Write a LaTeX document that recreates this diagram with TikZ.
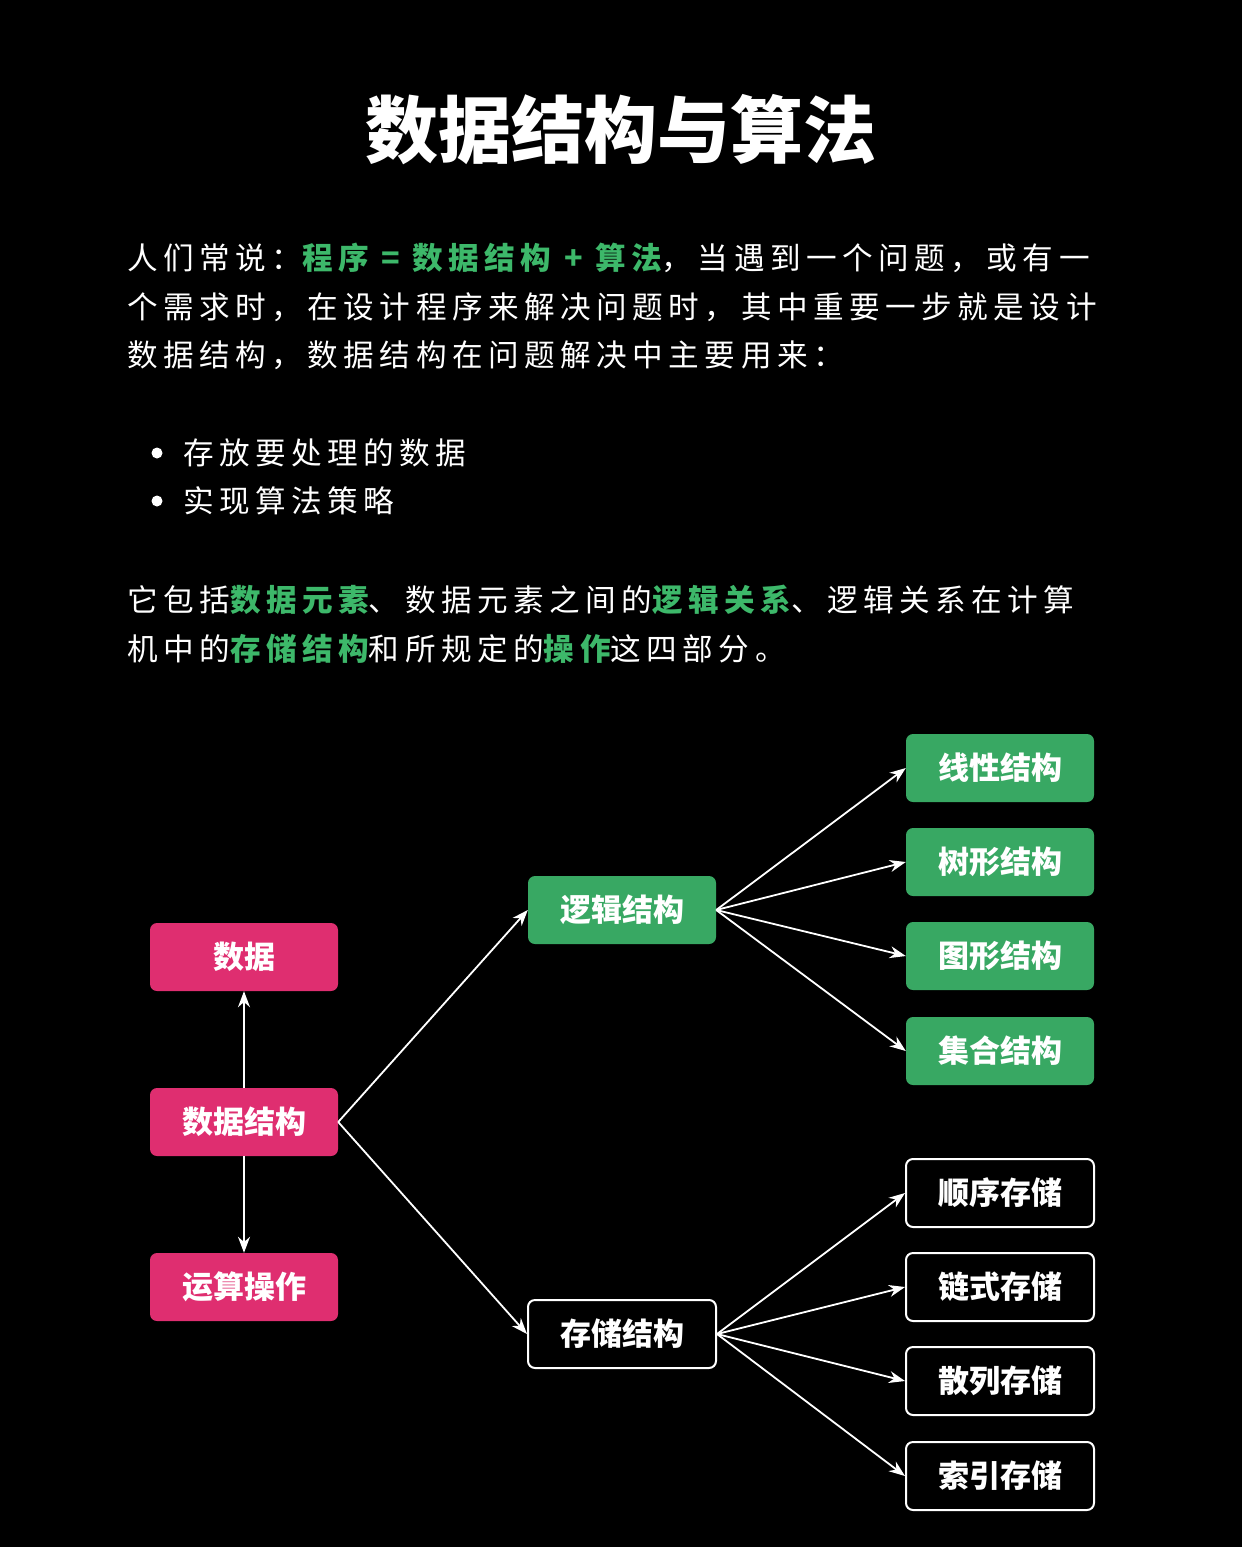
\documentclass[tikz,border=0pt]{standalone}
\usepackage{fontspec}
\usetikzlibrary{arrows.meta}
\newfontfamily\cjk{Noto Sans CJK SC}
\newfontfamily\body[LetterSpace=18]{Noto Sans CJK SC}
\definecolor{gr}{HTML}{3DB86A}
\definecolor{boxgr}{HTML}{38A863}
\definecolor{pk}{HTML}{DF2E70}
\newcommand{\hl}[1]{{\bfseries\color{gr}#1}}
\begin{document}
\begin{tikzpicture}[x=1pt,y=-1pt,
  txt/.style={anchor=west,inner sep=0pt,text=white,font=\body\fontsize{30.6}{30}\selectfont},
  bx/.style={rounded corners=7pt,minimum width=188pt,minimum height=68pt,text=white,font=\cjk\bfseries\fontsize{31}{31}\selectfont},
  gbox/.style={bx,fill=boxgr},
  pbox/.style={bx,fill=pk},
  kbox/.style={bx,fill=black,draw=white,line width=2pt},
  arr/.style={draw=white,line width=1.8pt,-{Stealth[length=16pt,width=12pt]}}]
\fill[black] (0,0) rectangle (1242,1547);
\useasboundingbox (0,0) rectangle (1242,1547);
\node[text=white,font=\cjk\bfseries\fontsize{73}{73}\selectfont] (title) at (621,130) {数据结构与算法};
\node[txt] (l1) at (127,258) {人们常说：\hl{程序 = 数据结构 + 算法}，当遇到一个问题，或有一};
\node[txt] (l2) at (127,307) {个需求时，在设计程序来解决问题时，其中重要一步就是设计};
\node[txt] (l3) at (127,355) {数据结构，数据结构在问题解决中主要用来：};
\fill[white] (157,453) circle (5.5pt);
\fill[white] (157,501) circle (5.5pt);
\node[txt] (b1) at (183,453) {存放要处理的数据};
\node[txt] (b2) at (183,501) {实现算法策略};
\node[txt] (p1) at (127,600) {它包括\hl{数据元素}、数据元素之间的\hl{逻辑关系}、逻辑关系在计算};
\node[txt] (p2) at (127,649) {机中的\hl{存储结构}和所规定的\hl{操作}这四部分。};

\node[pbox] (sj) at (244,957) {数据};
\node[pbox] (sjjg) at (244,1122) {数据结构};
\node[pbox] (yscz) at (244,1287) {运算操作};
\node[gbox] (ljjg) at (622,910) {逻辑结构};
\node[kbox] (ccjg) at (622,1334) {存储结构};
\node[gbox] (g1) at (1000,768) {线性结构};
\node[gbox] (g2) at (1000,862) {树形结构};
\node[gbox] (g3) at (1000,956) {图形结构};
\node[gbox] (g4) at (1000,1051) {集合结构};
\node[kbox] (k1) at (1000,1193) {顺序存储};
\node[kbox] (k2) at (1000,1287) {链式存储};
\node[kbox] (k3) at (1000,1381) {散列存储};
\node[kbox] (k4) at (1000,1476) {索引存储};

\draw[arr] (sjjg.north) -- (sj.south);
\draw[arr] (sjjg.south) -- (yscz.north);
\draw[arr] (sjjg.east) -- (ljjg.west);
\draw[arr] (sjjg.east) -- (ccjg.west);
\foreach \t in {g1,g2,g3,g4} \draw[arr] (ljjg.east) -- (\t.west);
\foreach \t in {k1,k2,k3,k4} \draw[arr] (ccjg.east) -- (\t.west);
\end{tikzpicture}
\end{document}
